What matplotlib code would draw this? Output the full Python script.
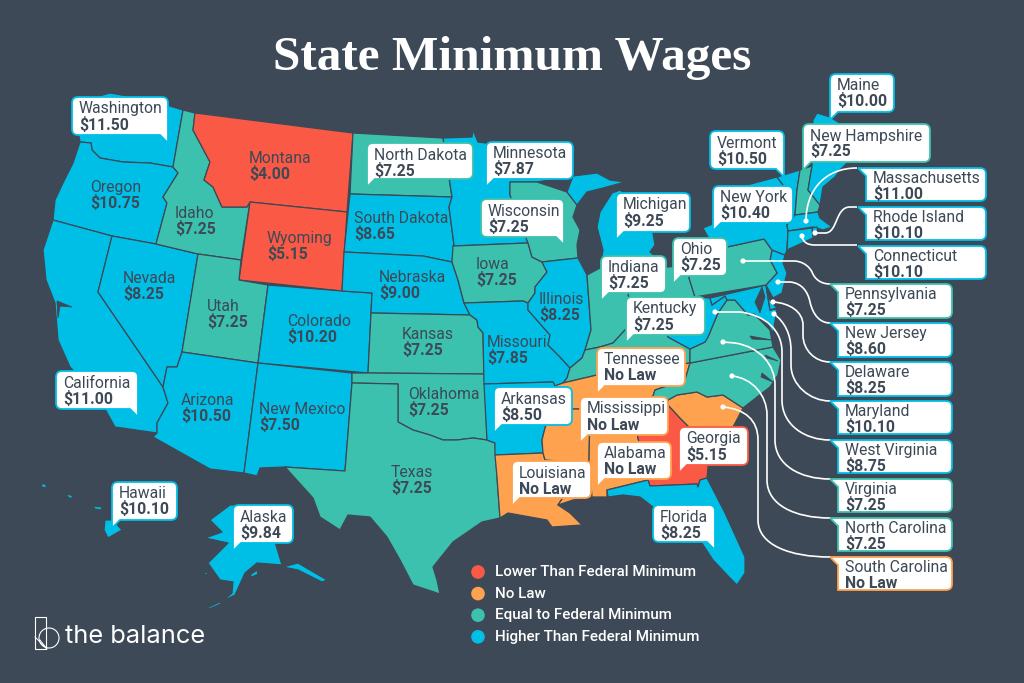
import matplotlib
matplotlib.use('Agg')
import matplotlib.pyplot as plt
from matplotlib.patches import Circle, PathPatch, Polygon, Rectangle
from matplotlib.path import Path

plt.rcParams['font.family'] = ['Roboto', 'DejaVu Sans']

BG = '#3d4956'
COLORS = {'low': '#fa5a45', 'none': '#ffa24f', 'equal': '#3bc1ae', 'high': '#00bfe7'}

# values
TITLE = 'State Minimum Wages'
WAGES = {
    'Washington': '$11.50', 'Oregon': '$10.75', 'California': '$11.00', 'Nevada': '$8.25',
    'Idaho': '$7.25', 'Montana': '$4.00', 'Wyoming': '$5.15', 'Utah': '$7.25',
    'Colorado': '$10.20', 'Arizona': '$10.50', 'New Mexico': '$7.50', 'North Dakota': '$7.25',
    'South Dakota': '$8.65', 'Nebraska': '$9.00', 'Kansas': '$7.25', 'Oklahoma': '$7.25',
    'Texas': '$7.25', 'Minnesota': '$7.87', 'Iowa': '$7.25', 'Missouri': '$7.85',
    'Arkansas': '$8.50', 'Louisiana': 'No Law', 'Wisconsin': '$7.25', 'Illinois': '$8.25',
    'Michigan': '$9.25', 'Indiana': '$7.25', 'Ohio': '$7.25', 'Kentucky': '$7.25',
    'Tennessee': 'No Law', 'Mississippi': 'No Law', 'Alabama': 'No Law', 'Georgia': '$5.15',
    'Florida': '$8.25', 'South Carolina': 'No Law', 'North Carolina': '$7.25', 'Virginia': '$7.25',
    'West Virginia': '$8.75', 'Maryland': '$10.10', 'Delaware': '$8.25', 'New Jersey': '$8.60',
    'Pennsylvania': '$7.25', 'New York': '$10.40', 'Connecticut': '$10.10', 'Rhode Island': '$10.10',
    'Massachusetts': '$11.00', 'Vermont': '$10.50', 'New Hampshire': '$7.25', 'Maine': '$10.00',
    'Hawaii': '$10.10', 'Alaska': '$9.84',
}
LOW_STATES = ['Montana', 'Wyoming', 'Georgia']
NO_LAW_STATES = ['Tennessee', 'Mississippi', 'Alabama', 'Louisiana', 'South Carolina']
EQUAL_STATES = ['Idaho', 'Utah', 'North Dakota', 'Kansas', 'Oklahoma', 'Texas', 'Iowa', 'Wisconsin',
                'Indiana', 'Ohio', 'Kentucky', 'Pennsylvania', 'Virginia', 'North Carolina',
                'New Hampshire']
LEGEND_LABELS = ['Lower Than Federal Minimum', 'No Law', 'Equal to Federal Minimum',
                 'Higher Than Federal Minimum']
LEGEND_KEYS = ['low', 'none', 'equal', 'high']

# state outlines traced in picture pixels
SHAPES = {
    'Washington': [[(110, 93), (150, 100), (183, 110), (173, 167), (150, 163), (123, 162), (100, 158),
                    (92, 150), (91, 143), (80, 142), (76, 120), (85, 100)]],
    'Oregon': [[(80, 142), (91, 143), (92, 150), (100, 158), (123, 162), (150, 163), (173, 167), (178, 173),
                (163, 197), (167, 203), (156, 244), (112, 236), (53, 220), (55, 200), (63, 183), (73, 163)]],
    'California': [[(53, 220), (112, 236), (98, 292), (163, 387), (168, 403), (157, 423), (157, 433), (115, 427),
                    (100, 400), (70, 367), (58, 340), (55, 303), (46, 280), (43, 250)]],
    'Nevada': [[(112, 236), (156, 244), (198, 254), (182, 352), (177, 367), (167, 367), (163, 387), (98, 292)]],
    'Idaho': [[(183, 110), (195, 113), (193, 130), (210, 162), (204, 180), (213, 187), (222, 207), (247, 207),
               (250, 202), (241, 260), (198, 254), (156, 244), (167, 203), (163, 197), (178, 173), (173, 167)]],
    'Montana': [[(195, 113), (353, 133), (347, 212), (250, 202), (247, 207), (222, 207), (213, 187), (204, 180),
                 (210, 162), (193, 130)]],
    'Wyoming': [[(250, 202), (347, 212), (342, 291), (239, 280)]],
    'Utah': [[(198, 254), (241, 260), (239, 280), (268, 285), (258, 363), (182, 352)]],
    'Colorado': [[(268, 285), (342, 291), (372, 293), (371, 313), (368, 373), (258, 363)]],
    'Arizona': [[(182, 352), (258, 363), (244, 473), (210, 469), (153, 437), (157, 433), (157, 423), (168, 403),
                 (163, 387), (167, 367), (177, 367)]],
    'New Mexico': [[(258, 363), (352, 373), (352, 383), (345, 471), (285, 467), (260, 468), (257, 476), (244, 473)]],
    'North Dakota': [[(353, 133), (443, 138), (452, 197), (350, 194)]],
    'South Dakota': [[(350, 194), (452, 197), (449, 207), (454, 245), (452, 262), (423, 256), (344, 252)]],
    'Nebraska': [[(344, 252), (423, 256), (452, 262), (458, 280), (464, 303), (470, 315), (371, 313), (372, 293),
                  (342, 291)]],
    'Kansas': [[(371, 313), (470, 315), (477, 320), (478, 327), (483, 333), (484, 374), (368, 373)]],
    'Oklahoma': [[(352, 373), (368, 373), (484, 374), (485, 385), (487, 440), (473, 438), (457, 440), (443, 440),
                  (430, 435), (413, 430), (398, 422), (398, 384), (352, 383)]],
    'Texas': [[(352, 383), (398, 384), (398, 422), (413, 430), (430, 435), (443, 440), (457, 440), (473, 438),
               (487, 440), (495, 443), (497, 477), (500, 518), (482, 522), (453, 542), (433, 567), (437, 580),
               (440, 594), (413, 585), (400, 560), (387, 537), (370, 517), (348, 515), (340, 530), (320, 517),
               (313, 498), (285, 467), (345, 471)]],
    'Minnesota': [[(443, 138), (472, 137), (473, 130), (478, 142), (500, 145), (530, 157), (573, 176), (537, 182),
                   (510, 182), (510, 195), (528, 243), (453, 246), (454, 245), (449, 207), (452, 197)]],
    'Iowa': [[(453, 246), (528, 243), (532, 257), (542, 262), (547, 272), (535, 287), (535, 293), (528, 303),
              (523, 301), (464, 303), (458, 280), (452, 262)]],
    'Missouri': [[(464, 303), (523, 301), (528, 303), (528, 310), (550, 335), (548, 345), (560, 357), (570, 368),
                  (567, 378), (563, 383), (555, 386), (553, 382), (484, 384), (483, 333), (478, 327), (477, 320),
                  (470, 315)]],
    'Arkansas': [[(484, 384), (553, 382), (555, 386), (552, 405), (545, 428), (542, 440), (543, 453), (495, 455),
                  (495, 443), (487, 440)]],
    'Louisiana': [[(495, 455), (543, 453), (545, 460), (570, 462), (568, 490), (558, 505), (570, 513), (582, 525),
                   (552, 527), (547, 520), (508, 513), (500, 518), (497, 477)]],
    'Wisconsin': [[(510, 182), (537, 182), (567, 192), (577, 205), (573, 217), (580, 230), (577, 245), (578, 258),
                   (542, 262), (532, 257), (528, 243), (510, 195)]],
    'Illinois': [[(542, 262), (578, 258), (587, 275), (591, 330), (585, 350), (582, 358), (570, 368), (560, 357),
                  (548, 345), (550, 335), (528, 310), (528, 303), (535, 293), (535, 287), (547, 272)]],
    'Michigan': [[(573, 176), (597, 173), (610, 180), (625, 182), (603, 188), (587, 192), (577, 205), (567, 192)],
                 [(600, 268), (603, 250), (597, 227), (600, 212), (612, 193), (620, 190), (640, 205), (650, 225),
                  (653, 233), (655, 245), (650, 252), (668, 267)]],
    'Indiana': [[(587, 275), (600, 268), (628, 268), (628, 293), (632, 318), (625, 330), (613, 343), (600, 347),
                 (585, 350), (591, 330)]],
    'Ohio': [[(628, 268), (668, 267), (692, 265), (689, 278), (695, 297), (680, 320), (660, 330), (640, 325),
              (632, 318), (628, 293)]],
    'Kentucky': [[(570, 368), (582, 358), (585, 350), (600, 347), (613, 343), (625, 330), (632, 318), (640, 325),
                  (660, 330), (665, 325), (668, 337), (690, 349), (690, 363), (597, 375), (563, 383), (567, 378)]],
    'Tennessee': [[(555, 386), (563, 383), (597, 375), (690, 363), (685, 380), (655, 390), (653, 396), (640, 405),
                   (590, 409), (552, 409)]],
    'Mississippi': [[(552, 409), (590, 409), (589, 461), (592, 497), (573, 500), (558, 505), (568, 490), (570, 462),
                     (545, 460), (543, 453), (542, 440), (545, 428)]],
    'Alabama': [[(590, 409), (632, 406), (638, 438), (648, 480), (607, 490), (607, 497), (592, 497), (589, 461)]],
    'Georgia': [[(632, 406), (668, 405), (680, 418), (690, 428), (710, 440), (708, 467), (707, 478), (700, 480),
                 (698, 487), (697, 484), (650, 486), (648, 480), (638, 438)]],
    'Florida': [[(607, 490), (648, 480), (650, 486), (697, 484), (698, 487), (700, 480), (707, 478), (725, 513),
                 (745, 557), (745, 573), (737, 585), (730, 578), (713, 560), (698, 537), (653, 507), (640, 497),
                 (623, 495), (608, 497)]],
    'South Carolina': [[(668, 400), (677, 395), (697, 392), (707, 397), (723, 395), (743, 408), (733, 427),
                        (728, 433), (710, 440), (690, 428), (680, 418), (668, 405)]],
    'North Carolina': [[(653, 396), (655, 390), (685, 380), (690, 363), (773, 347), (781, 360), (778, 375), (770, 387),
                        (757, 397), (743, 408), (723, 395), (707, 397), (697, 392), (677, 395), (668, 400),
                        (668, 405), (640, 405)]],
    'Virginia': [[(690, 363), (690, 349), (705, 342), (708, 337), (718, 313), (727, 300), (735, 300), (741, 307),
                  (748, 315), (754, 314), (758, 318), (770, 330), (773, 347)]],
    'West Virginia': [[(695, 297), (710, 298), (712, 305), (725, 296), (727, 300), (718, 313), (708, 337), (705, 342),
                       (690, 349), (668, 337), (665, 325), (680, 320)]],
    'Maryland': [[(710, 298), (766, 285), (770, 310), (777, 309), (773, 333), (767, 322), (758, 318), (754, 314),
                  (748, 315), (741, 307), (735, 300), (727, 300), (725, 296), (712, 305)]],
    'Delaware': [[(766, 285), (770, 300), (777, 308), (770, 310)]],
    'New Jersey': [[(772, 250), (785, 255), (783, 263), (787, 273), (782, 293), (773, 298), (766, 285), (777, 273),
                    (770, 260)]],
    'Pennsylvania': [[(689, 278), (692, 265), (727, 247), (764, 239), (772, 250), (770, 260), (777, 273), (766, 285),
                      (695, 297)]],
    'New York': [[(703, 228), (715, 223), (747, 185), (777, 177), (783, 185), (787, 217), (787, 225), (788, 231),
                  (787, 250), (785, 255), (772, 250), (764, 239), (727, 247), (708, 237)],
                 [(785, 262), (810, 247), (795, 255)]],
    'Vermont': [[(777, 177), (800, 170), (797, 190), (795, 215), (787, 217), (783, 185)]],
    'New Hampshire': [[(800, 170), (812, 166), (808, 190), (820, 205), (818, 212), (795, 215), (797, 190)]],
    'Maine': [[(813, 120), (817, 113), (830, 117), (838, 122), (860, 140), (850, 160), (840, 170), (835, 177),
               (823, 187), (820, 205), (808, 190), (812, 166)]],
    'Massachusetts': [[(787, 225), (795, 215), (818, 212), (820, 218), (832, 227), (823, 230), (813, 227), (788, 231)]],
    'Rhode Island': [[(812, 228), (817, 227), (818, 233), (813, 238)]],
    'Connecticut': [[(788, 231), (812, 228), (813, 238), (787, 250)]],
    'Hawaii': [[(105, 520), (113, 520), (122, 530), (108, 538), (104, 530)],
               [(93, 506), (102, 507), (101, 510), (95, 509)],
               [(66, 494), (71, 495), (74, 498), (69, 498)],
               [(41, 484), (46, 484), (46, 488), (42, 487)]],
    'Alaska': [[(230, 505), (275, 505), (275, 542), (282, 565), (257, 563), (245, 573), (235, 595), (223, 601),
                (232, 593), (233, 582), (220, 580), (208, 563), (228, 543), (205, 538), (222, 532), (210, 520)],
               [(283, 567), (298, 563), (327, 580), (322, 582), (298, 570)],
               [(250, 575), (257, 570), (258, 574), (252, 577)],
               [(207, 608), (220, 602), (221, 604), (209, 609)],
               [(203, 573), (208, 572), (207, 575)]],
}

# water cut into the coast
BAYS = [
    [(762, 287), (755, 302), (760, 313), (762, 306), (765, 297)],
    [(750, 336), (772, 340), (752, 339)],
    [(765, 355), (778, 361), (767, 358)],
    [(762, 373), (773, 382), (761, 377)],
    [(57, 301), (72, 307), (60, 306), (58, 318)],
]

# plain labels on the map: x, name baseline
MAP_LABELS = {
    'Montana': (249, 163), 'Wyoming': (267, 243), 'Oregon': (90, 192), 'Idaho': (175, 218),
    'Nevada': (123, 283), 'Utah': (207, 311), 'Colorado': (287, 326), 'South Dakota': (354, 223),
    'Nebraska': (379, 282), 'Iowa': (476, 269), 'Illinois': (539, 304), 'Kansas': (402, 339),
    'Missouri': (487, 347), 'Oklahoma': (408, 399), 'Texas': (391, 477), 'Arizona': (181, 405),
    'New Mexico': (259, 414),
}

# callouts: x0, y0, x1, y1, tail side
CALLOUTS = {
    'Washington': (72, 97, 168, 135, 'br'), 'North Dakota': (367, 143, 473, 179, 'bl'),
    'Minnesota': (486, 142, 573, 179, 'bl'), 'Wisconsin': (481, 199, 564, 237, 'br'),
    'Michigan': (616, 193, 690, 232, 'bl'), 'Indiana': (601, 256, 666, 293, 'bl'),
    'Ohio': (673, 238, 727, 276, 'bl'), 'Kentucky': (626, 297, 705, 335, 'bl'),
    'Tennessee': (597, 348, 685, 386, 'bl'), 'Arkansas': (494, 387, 572, 425, 'bl'),
    'Mississippi': (580, 397, 668, 435, 'bl'), 'Alabama': (597, 442, 671, 479, 'bl'),
    'Louisiana': (512, 461, 591, 498, 'bl'), 'Georgia': (679, 427, 748, 465, 'bl'),
    'Florida': (653, 505, 715, 542, 'br'), 'Maine': (830, 74, 894, 112, 'bl'),
    'New Hampshire': (803, 124, 930, 162, 'bl'), 'Vermont': (710, 131, 784, 169, 'br'),
    'New York': (713, 186, 793, 223, 'bl'), 'California': (56, 371, 138, 409, 'br'),
    'Hawaii': (112, 482, 177, 520, 'bl'), 'Alaska': (233, 505, 293, 543, 'bl'),
    'Massachusetts': (866, 168, 986, 201, 'tl'), 'Rhode Island': (866, 207, 986, 240, 'tl'),
    'Connecticut': (866, 246, 986, 279, 'tl'), 'Pennsylvania': (838, 284, 952, 318, 'tl'),
    'New Jersey': (838, 323, 952, 357, 'tl'), 'Delaware': (838, 362, 952, 396, 'tl'),
    'Maryland': (838, 401, 952, 434, 'tl'), 'West Virginia': (838, 440, 952, 473, 'tl'),
    'Virginia': (838, 479, 952, 512, 'tl'), 'North Carolina': (838, 518, 952, 551, 'tl'),
    'South Carolina': (838, 557, 952, 590, 'tl'),
}

# leader lines: dot, then one point for a straight piece or three for a curve
LEADERS = [
    [(806, 221), [(806, 190), (825, 168), (857, 168)]],
    [(815, 233), [(825, 233)], [(838, 233), (835, 207), (850, 207)], [(857, 207)]],
    [(802, 236), [(803, 242), (807, 245), (815, 245)], [(857, 245)]],
    [(743, 261), [(795, 261)], [(805, 262), (810, 268), (812, 272)], [(815, 280), (822, 284), (830, 284)]],
    [(778, 282), [(790, 282)], [(802, 283), (808, 292), (810, 302)], [(813, 315), (820, 323), (830, 323)]],
    [(773, 302), [(790, 303), (803, 312), (803, 325)], [(803, 335)], [(803, 350), (815, 362), (830, 362)]],
    [(774, 314), [(785, 322), (791, 335), (791, 350)], [(791, 365)], [(791, 385), (810, 401), (830, 401)]],
    [(715, 312), [(740, 312)], [(765, 315), (782, 330), (782, 352)], [(782, 400)],
     [(782, 425), (805, 440), (830, 440)]],
    [(723, 342), [(735, 343)], [(760, 347), (775, 365), (775, 385)], [(775, 440)],
     [(775, 465), (800, 479), (830, 479)]],
    [(732, 376), [(752, 378), (767, 395), (767, 415)], [(767, 480)], [(767, 505), (795, 518), (830, 518)]],
    [(723, 407), [(745, 409), (758, 420), (758, 440)], [(758, 520)], [(758, 545), (790, 557), (830, 557)]],
]


def state_color(state):
    if state in LOW_STATES:
        return COLORS['low']
    if state in NO_LAW_STATES:
        return COLORS['none']
    if state in EQUAL_STATES:
        return COLORS['equal']
    return COLORS['high']


def callout_path(x0, y0, x1, y1, side, r=6):
    ''' rounded box with a small pointed tail '''
    if side == 'tl':
        verts = [(x0 - 8, y0), (x1 - r, y0), (x1, y0), (x1, y0 + r), (x1, y1 - r), (x1, y1), (x1 - r, y1),
                 (x0, y1), (x0, y0 + 8), (x0 - 8, y0)]
        codes = [1, 2, 3, 3, 2, 3, 3, 2, 2, 2]
    elif side == 'bl':
        verts = [(x0 + r, y0), (x1 - r, y0), (x1, y0), (x1, y0 + r), (x1, y1 - r), (x1, y1), (x1 - r, y1),
                 (x0 + 8, y1), (x0, y1 + 8), (x0, y0 + r), (x0, y0), (x0 + r, y0)]
        codes = [1, 2, 3, 3, 2, 3, 3, 2, 2, 2, 3, 3]
    else:
        verts = [(x0 + r, y0), (x1 - r, y0), (x1, y0), (x1, y0 + r), (x1, y1 + 8), (x1 - 8, y1), (x0 + r, y1),
                 (x0, y1), (x0, y1 - r), (x0, y0 + r), (x0, y0), (x0 + r, y0)]
        codes = [1, 2, 3, 3, 2, 2, 2, 3, 3, 2, 3, 3]
    return Path(verts, codes)


def leader_path(leader):
    verts = [leader[0]]
    codes = [Path.MOVETO]
    for piece in leader[1:]:
        verts.extend(piece)
        codes.extend([Path.LINETO] if len(piece) == 1 else [Path.CURVE4] * 3)
    return Path(verts, codes)


def main():
    fig = plt.figure(figsize=(10.24, 6.83), dpi=100, facecolor=BG)
    ax = fig.add_axes([0, 0, 1, 1])
    ax.set_xlim(0, 1024)
    ax.set_ylim(683, 0)
    ax.axis('off')

    for state, parts in SHAPES.items():
        for part in parts:
            ax.add_patch(Polygon(part, closed=True, facecolor=state_color(state),
                                 edgecolor=BG, linewidth=0.9, joinstyle='round', zorder=2))

    for bay in BAYS:
        ax.add_patch(Polygon(bay, closed=True, facecolor=BG, edgecolor=BG, linewidth=0.6, zorder=3))

    # leader lines
    for leader in LEADERS:
        ax.add_patch(PathPatch(leader_path(leader), facecolor='none', edgecolor='white',
                               linewidth=1.2, zorder=4))
        ax.add_patch(Circle(leader[0], 2.6, facecolor='white', edgecolor='none', zorder=5))

    # callout boxes and their text
    for state, (x0, y0, x1, y1, side) in CALLOUTS.items():
        ax.add_patch(PathPatch(callout_path(x0, y0, x1, y1, side), facecolor='white',
                               edgecolor=state_color(state), linewidth=1.3, zorder=6))
        tx = x0 + 7
        shift = 15 if side == 'tl' else 16.5
        ax.text(tx, y0 + shift, state, fontsize=11.3, color=BG, va='baseline', zorder=7)
        ax.text(tx, y0 + shift + 16, WAGES[state], fontsize=11.3, color=BG, weight='bold',
                va='baseline', zorder=7)

    # labels sitting directly on the map
    for state, (x, y) in MAP_LABELS.items():
        ax.text(x, y, state, fontsize=11.3, color=BG, va='baseline', zorder=7)
        ax.text(x, y + 16, WAGES[state], fontsize=11.3, color=BG, weight='bold', va='baseline', zorder=7)

    ax.text(512, 70, TITLE, fontsize=35.5, family='Liberation Serif', weight='bold', color='white',
            ha='center', va='baseline', zorder=7)

    # legend
    for i, (label, key) in enumerate(zip(LEGEND_LABELS, LEGEND_KEYS)):
        y = 572 + i * 21.6
        ax.add_patch(Circle((478, y), 6.8, facecolor=COLORS[key], edgecolor='none', zorder=5))
        ax.text(495, y, label, fontsize=10.9, color='white', weight='medium', va='center', zorder=7)

    # logo
    ax.add_patch(Rectangle((34.5, 617), 11.5, 32, facecolor='none', edgecolor='white', linewidth=0.8, zorder=5))
    ax.add_patch(Circle((49, 638), 10, facecolor='none', edgecolor='white', linewidth=0.8, zorder=5))
    ax.plot([35, 46], [637, 648], color='white', linewidth=0.7, zorder=5)
    ax.plot([40, 47], [640, 649], color='white', linewidth=0.7, zorder=5)
    ax.text(65, 643, 'the balance', fontsize=18.3, color='white', family='Inter', va='baseline', zorder=7)

    plt.savefig('out.png', dpi=100, facecolor=BG)
    plt.close()


if __name__ == '__main__':
    main()
